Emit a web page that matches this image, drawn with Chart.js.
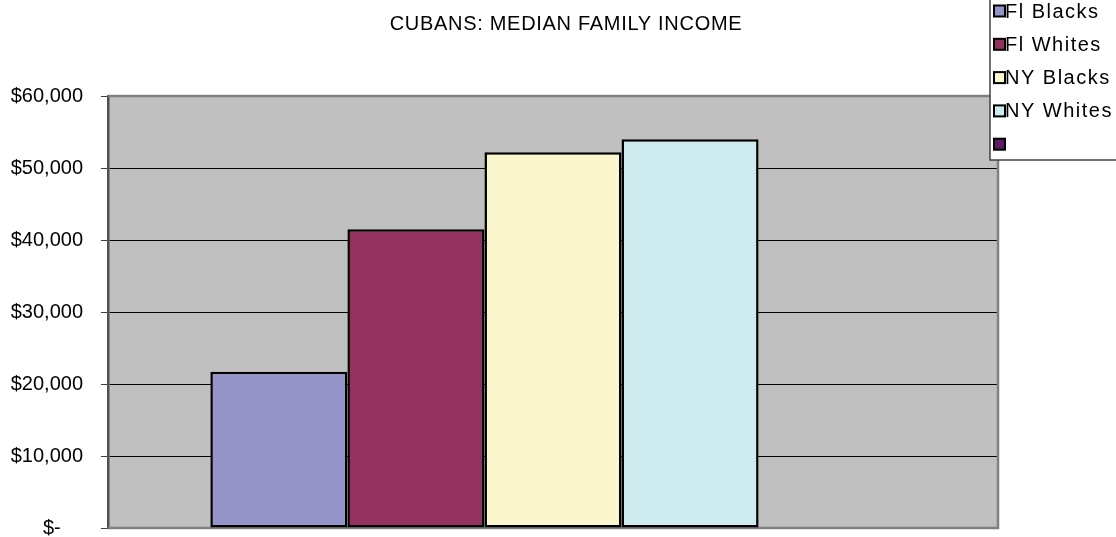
<!DOCTYPE html>
<html>
<head>
<meta charset="utf-8">
<title>Cubans: Median Family Income</title>
<script src="https://cdn.jsdelivr.net/npm/chart.js@4.4.1/dist/chart.umd.min.js"></script>
<style>
  html, body { margin: 0; padding: 0; background: #ffffff; }
  #wrap { width: 1116px; height: 537px; }
  canvas { display: block; }
</style>
</head>
<body>
<div id="wrap"><canvas id="incomeChart" width="1116" height="537"></canvas></div>
<script>
// Chart data
const chartTitle = 'CUBANS: MEDIAN FAMILY INCOME';
const categories = [''];
const seriesNames = ['Fl Blacks', 'Fl Whites', 'NY Blacks', 'NY Whites', ''];
const seriesValues = [[21700], [41500], [52200], [54000], [null]];
const seriesColors = ['#9494C8', '#93325E', '#FAF7CE', '#CEEBEF', '#5E1A66'];
const yTicks = [0, 10000, 20000, 30000, 40000, 50000, 60000];

const FONT = "'Liberation Sans', Arial, sans-serif";

// gray plot area with its frame, like the old spreadsheet chart
const plotBackground = {
  id: 'plotBackground',
  beforeDraw(chart) {
    const { ctx, chartArea: a } = chart;
    ctx.save();
    ctx.fillStyle = '#C0C0C0';
    ctx.fillRect(a.left, a.top, a.right - a.left, a.bottom - a.top);
    ctx.restore();
  },
  beforeDatasetsDraw(chart) {
    const { ctx, chartArea: a } = chart;
    ctx.save();
    ctx.strokeStyle = '#808080';
    ctx.lineWidth = 2.5;
    ctx.beginPath();
    ctx.moveTo(a.left, a.top);
    ctx.lineTo(a.right, a.top);
    ctx.lineTo(a.right, a.bottom);
    ctx.lineTo(a.left, a.bottom);
    ctx.stroke();
    ctx.restore();
  }
};

// title and boxed legend sit where the built-in boxes cannot put them
const titleAndLegend = {
  id: 'titleAndLegend',
  afterDraw(chart) {
    const ctx = chart.ctx;
    ctx.save();
    ctx.font = '20px ' + FONT;
    ctx.letterSpacing = '0.7px';
    ctx.fillStyle = '#000000';
    ctx.textAlign = 'center';
    ctx.textBaseline = 'middle';
    ctx.fillText(chartTitle, 566, 24);

    // legend frame
    const left = 990, top = -2, bottom = 160;
    ctx.fillStyle = '#ffffff';
    ctx.fillRect(left, top, chart.width - left + 5, bottom - top);
    ctx.strokeStyle = '#404040';
    ctx.lineWidth = 1.5;
    ctx.strokeRect(left, top, chart.width - left + 5, bottom - top);

    ctx.textAlign = 'left';
    ctx.letterSpacing = '1.5px';
    chart.data.datasets.forEach((ds, i) => {
      const cy = 11 + i * 33.3;
      ctx.fillStyle = ds.backgroundColor;
      ctx.fillRect(994, cy - 5.5, 11, 11);
      ctx.strokeStyle = '#000000';
      ctx.lineWidth = 2;
      ctx.strokeRect(994, cy - 5.5, 11, 11);
      ctx.fillStyle = '#000000';
      ctx.fillText(ds.label, 1005, cy + 1);
    });
    ctx.restore();
  }
};

function buildDatasets() {
  return seriesNames.map((name, i) => ({
    label: name,
    data: seriesValues[i],
    backgroundColor: seriesColors[i],
    borderColor: '#000000',
    borderWidth: 2.5,
    borderSkipped: false,
    categoryPercentage: 0.77,
    barPercentage: 1.0
  }));
}

document.addEventListener('DOMContentLoaded', () => {
  const ctx = document.getElementById('incomeChart').getContext('2d');
  window.incomeChart = new Chart(ctx, {
    type: 'bar',
    data: { labels: categories, datasets: buildDatasets() },
    options: {
      responsive: false,
      animation: false,
      devicePixelRatio: 1,
      layout: {
        autoPadding: false,
        padding: { top: 96, right: 118, bottom: 9, left: 0 }
      },
      plugins: {
        legend: { display: false },
        title: { display: false },
        tooltip: { enabled: false }
      },
      scales: {
        x: {
          display: false,
          afterFit(scale) { scale.height = 0; }
        },
        y: {
          min: yTicks[0],
          max: yTicks[yTicks.length - 1],
          afterFit(scale) {
            // fixed axis width, and no extra room for the end labels
            scale.width = 108;
            scale.paddingTop = 0;
            scale.paddingBottom = 0;
          },
          afterBuildTicks(scale) { scale.ticks = yTicks.map(v => ({ value: v })); },
          border: { color: '#505050', width: 2.5 },
          grid: {
            color: c => (c.tick && (c.tick.value === 0 || c.tick.value === 60000)) ? 'rgba(0,0,0,0)' : '#000000',
            lineWidth: 1,
            tickLength: 7,
            tickColor: '#404040',
            tickWidth: 1
          },
          ticks: {
            padding: 18,
            color: '#000000',
            font: { family: FONT, size: 20 },
            callback: v => v === 0 ? '$-    ' : '$' + v.toLocaleString('en-US')
          }
        }
      }
    },
    plugins: [plotBackground, titleAndLegend]
  });
});
</script>
</body>
</html>
